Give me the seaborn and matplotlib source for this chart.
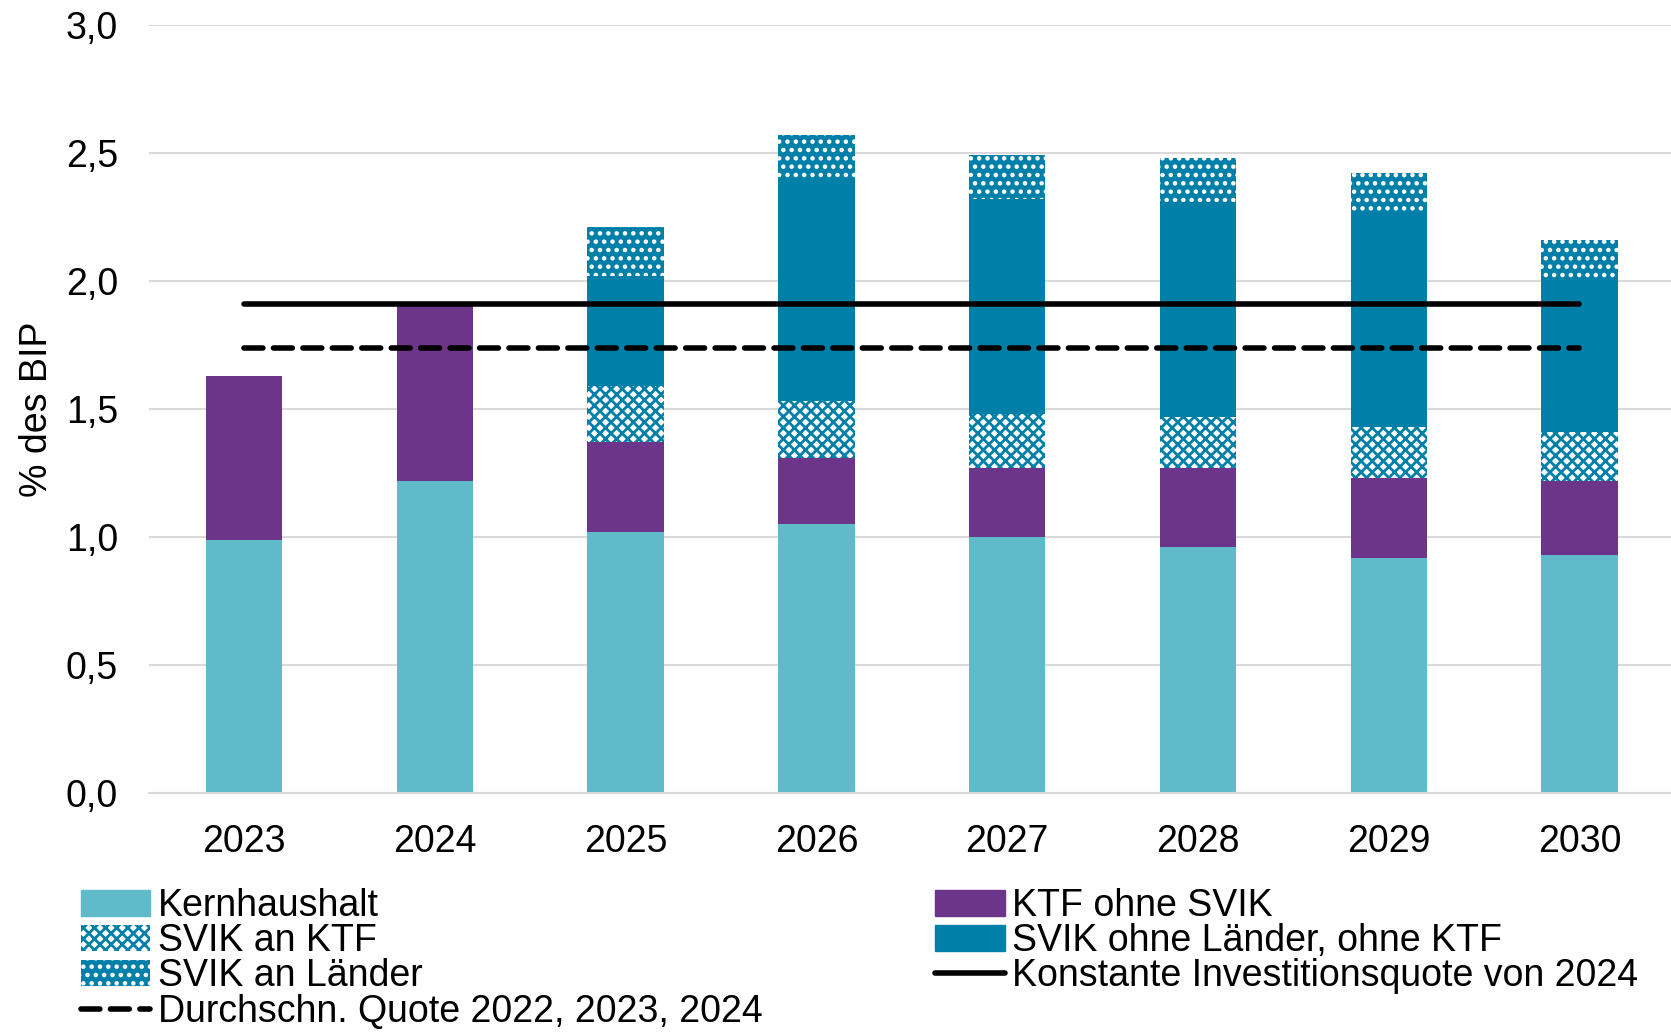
import matplotlib
matplotlib.use("Agg")
import matplotlib.pyplot as plt
import matplotlib.patches as mpatches
import matplotlib.lines as mlines
import seaborn as sns
import numpy as np

# values in % des BIP
years = ["2023", "2024", "2025", "2026", "2027", "2028", "2029", "2030"]
kernhaushalt = [0.99, 1.22, 1.02, 1.05, 1.00, 0.96, 0.92, 0.93]
ktf_ohne_svik = [0.64, 0.69, 0.35, 0.26, 0.27, 0.31, 0.31, 0.29]
svik_an_ktf = [0.00, 0.00, 0.22, 0.22, 0.21, 0.20, 0.20, 0.19]
svik_ohne = [0.00, 0.00, 0.43, 0.86, 0.84, 0.84, 0.83, 0.59]
svik_an_laender = [0.00, 0.00, 0.19, 0.18, 0.17, 0.17, 0.16, 0.16]
konstante_quote = [1.91] * len(years)
durchschn_quote = [1.74] * len(years)

yticks = [0.0, 0.5, 1.0, 1.5, 2.0, 2.5, 3.0]

c_kern = "#5FBACA"
c_ktf = "#6C3589"
c_svik = "#0080A8"
FS = 27
LW = 4.0

sns.set_style("white")
plt.rcParams["font.family"] = ["Liberation Sans", "DejaVu Sans"]
plt.rcParams["text.color"] = "black"
plt.rcParams["xtick.color"] = "black"
plt.rcParams["ytick.color"] = "black"
plt.rcParams["axes.labelcolor"] = "black"
plt.rcParams["hatch.linewidth"] = 2.0

fig, ax = plt.subplots(figsize=(16.71, 10.33), dpi=100)
fig.subplots_adjust(left=0.089, right=1.0, top=0.976, bottom=0.232)

layers = [
    ("Kernhaushalt", kernhaushalt, dict(color=c_kern)),
    ("KTF ohne SVIK", ktf_ohne_svik, dict(color=c_ktf)),
    ("SVIK an KTF", svik_an_ktf, dict(facecolor="white", edgecolor=c_svik, hatch="xxx", linewidth=0)),
    ("SVIK ohne Länder, ohne KTF", svik_ohne, dict(color=c_svik)),
    ("SVIK an Länder", svik_an_laender, dict(facecolor=c_svik, edgecolor="white", hatch="..", linewidth=0)),
]

# stacked bars: draw cumulative totals, largest first
cum = np.cumsum([np.array(v) for _, v, _ in layers], axis=0)
for i in range(len(layers) - 1, -1, -1):
    name, vals, style = layers[i]
    kw = dict(style)
    kw.setdefault("linewidth", 0)
    sns.barplot(x=years, y=cum[i], order=years, width=0.4, ax=ax,
                saturation=1, errorbar=None, **kw)

xpos = np.arange(len(years))
ax.plot(xpos, konstante_quote, color="black", lw=LW, solid_capstyle="round", zorder=5)
ax.plot(xpos, durchschn_quote, color="black", lw=LW, linestyle=(0, (3.4, 1.9)),
        dash_capstyle="round", zorder=5)

ax.set_xlim(-0.5, 7.48)
ax.set_ylim(0, 3.0)
ax.set_yticks(yticks)
ax.set_yticklabels([f"{t:.1f}".replace(".", ",") for t in yticks])
ax.yaxis.grid(True, color="#D9D9D9", lw=1.5)
ax.set_axisbelow(True)
for s in ["top", "right", "left"]:
    ax.spines[s].set_visible(False)
ax.spines["bottom"].set_color("#D9D9D9")
ax.spines["bottom"].set_linewidth(1.5)
ax.tick_params(axis="y", length=0, pad=22, labelsize=FS)
ax.tick_params(axis="x", length=0, pad=22, labelsize=FS)
ax.set_xlabel("")
ax.set_ylabel("% des BIP", fontsize=FS, labelpad=8)

handles = [
    mpatches.Patch(color=c_kern, label="Kernhaushalt"),
    mpatches.Patch(facecolor="white", edgecolor=c_svik, hatch="xxx", linewidth=0, label="SVIK an KTF"),
    mpatches.Patch(facecolor=c_svik, edgecolor="white", hatch="..", linewidth=0, label="SVIK an Länder"),
    mlines.Line2D([], [], color="black", lw=LW, linestyle=(0, (3.4, 1.9)), dash_capstyle="round",
                  label="Durchschn. Quote 2022, 2023, 2024"),
    mpatches.Patch(color=c_ktf, label="KTF ohne SVIK"),
    mpatches.Patch(color=c_svik, label="SVIK ohne Länder, ohne KTF"),
    mlines.Line2D([], [], color="black", lw=LW, solid_capstyle="round",
                  label="Konstante Investitionsquote von 2024"),
]
fig.legend(handles=handles, ncol=2, loc="upper left", bbox_to_anchor=(0.0395, 0.155),
           frameon=False, fontsize=FS, handlelength=1.85, handletextpad=0.2,
           labelspacing=-0.02, columnspacing=4.6, borderaxespad=0)

fig.savefig("out.png", dpi=100)
